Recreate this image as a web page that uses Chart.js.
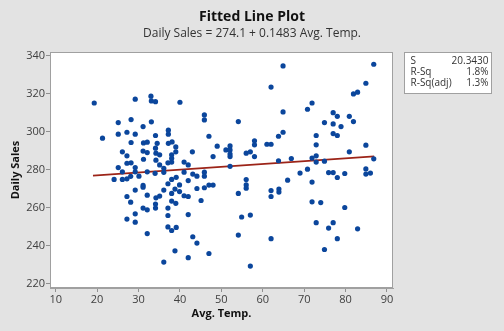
<!DOCTYPE html>
<html><head><meta charset="utf-8">
<script src="https://cdn.jsdelivr.net/npm/chart.js@4"></script>
<style>
html,body{margin:0;padding:0;background:#e3e3e3;}
#wrap{width:504px;height:331px;position:relative;}
</style>
</head><body><div id="wrap"><canvas id="c" width="504" height="331"></canvas></div>
<script>
// ---- data ----
const avgTemp = [
 19.3,29.2,33.0,33.1,34.1,28.2,25.1,33.1,31.1,21.3,25.1,27.2,29.2,34.1,37.2,37.2,28.2,31.2,32.1,34.5,
 37.2,38.1,34.1,26.1,31.1,32.1,34.2,35.1,38.0,27.2,31.2,34.2,37.1,38.0,38.0,27.2,28.2,25.1,29.2,35.1,
 36.1,39.0,39.0,26.1,29.2,36.1,34.0,32.1,39.1,24.1,26.1,27.2,28.1,30.1,38.0,40.0,
 37.1,29.2,31.1,31.1,36.1,38.8,39.9,32.1,27.2,34.2,35.1,38.0,28.1,38.0,39.0,34.1,34.1,31.1,32.1,37.1,
 29.2,37.1,27.2,29.2,37.1,38.0,39.1,32.1,38.8,36.1,39.9,
 45.9,45.9,54.1,62.0,47.0,43.0,49.0,48.0,51.1,52.1,52.1,52.1,52.1,56.0,57.0,58.0,58.0,58.0,61.0,62.0,
 63.8,63.8,41.0,42.0,52.1,
 41.0,42.0,43.1,44.1,45.9,45.9,44.1,45.9,47.0,48.0,41.0,42.0,45.1,56.0,56.0,56.0,54.1,62.0,62.0,63.9,
 63.9,42.0,54.9,57.0,43.1,44.1,54.1,62.0,42.0,47.0,57.0,
 64.9,86.8,84.9,81.9,82.9,71.9,70.8,64.9,77.0,78.0,80.9,81.9,74.9,77.0,78.9,64.9,72.9,77.0,78.0,72.9,
 84.9,80.9,72.9,71.9,72.9,74.9,66.9,86.8,70.8,84.9,69.0,75.9,77.0,78.0,79.8,84.9,86.0,66.0,71.9,71.9,
 74.0,79.8,72.9,77.0,75.9,82.9,78.0,74.9
];
const dailySales = [
 315.1,317.1,318.7,316.2,315.8,306.4,304.8,305.2,302.7,296.6,298.7,299.7,298.7,298.0,300.8,298.7,294.3,294.1,294.5,293.9,
 293.9,294.6,291.3,289.4,289.8,289.0,288.7,287.8,287.8,287.3,285.5,285.0,283.6,284.0,286.0,283.4,283.6,281.1,281.1,282.5,
 280.7,292.0,289.4,278.9,278.9,278.6,278.1,278.9,276.0,274.9,274.9,275.2,276.5,276.6,274.9,315.5,
 272.6,269.3,271.7,270.8,269.3,269.8,268.5,266.6,265.9,265.2,266.1,267.5,262.9,263.5,262.3,261.9,259.8,259.8,258.9,259.8,
 256.8,255.9,254.0,252.4,249.9,248.0,249.6,246.4,237.3,231.4,272.0,
 308.8,306.2,305.3,323.5,297.6,289.4,292.4,286.9,290.4,292.5,290.4,288.2,286.9,288.7,289.4,295.2,293.1,286.9,293.4,293.4,
 297.6,284.7,284.0,282.5,281.8,
 278.7,274.3,277.7,276.6,278.7,276.6,270.1,270.5,271.9,271.9,266.3,265.9,263.8,274.8,272.0,270.3,267.5,269.0,265.9,269.8,
 268.2,256.4,255.1,256.1,244.7,241.4,245.6,243.7,233.7,235.9,229.3,
 334.6,335.5,325.5,319.9,320.8,315.1,311.8,310.4,310.0,308.1,308.1,305.3,304.8,304.1,302.7,299.7,298.0,299.0,298.0,293.1,
 292.9,289.4,287.3,286.1,284.0,284.5,285.9,285.7,280.3,280.4,278.2,278.5,278.5,275.9,278.0,277.7,278.2,274.5,273.5,263.1,
 262.7,260.1,252.1,252.1,249.3,248.9,243.7,238.0
];
const fitLineX = [19.0, 86.9];
const fitLineY = [276.9, 287.0];
const xTicks = [10,20,30,40,50,60,70,80,90];
const yTicks = [220,240,260,280,300,320,340];
const statsLabels = ['S','R-Sq','R-Sq(adj)'];
const statsValues = ['20.3430','1.8%','1.3%'];
const chartTitle = 'Fitted Line Plot';
const chartSubtitle = 'Daily Sales = 274.1 + 0.1483 Avg. Temp.';

const FONT = '"Open Sans", "Noto Sans", sans-serif';

const scatterData = avgTemp.map((x,i)=>({x:x, y:dailySales[i]}));
const lineData = fitLineX.map((x,i)=>({x:x, y:fitLineY[i]}));

const decor = {
  id:'decor',
  beforeDraw(chart){
    const {ctx, chartArea:a} = chart;
    ctx.save();
    ctx.fillStyle = '#ffffff';
    ctx.fillRect(a.left, a.top, a.right-a.left, a.bottom-a.top);
    ctx.restore();
  },
  afterDraw(chart){
    const {ctx, chartArea:a} = chart;
    ctx.save();
    ctx.strokeStyle = '#a0a0a0';
    ctx.lineWidth = 1;
    ctx.strokeRect(a.left+0.5, a.top+0.5, a.right-a.left-1, a.bottom-a.top-1);
    // titles
    ctx.fillStyle = '#111';
    ctx.textAlign = 'center';
    ctx.textBaseline = 'alphabetic';
    ctx.font = 'bold 14px ' + FONT;
    ctx.fillText(chartTitle, 252, 21);
    ctx.fillStyle = '#333';
    ctx.font = '12px ' + FONT;
    ctx.fillText(chartSubtitle, 252, 37);
    // stats box
    const bx=404.5, by=52.5, bw=87, bh=41;
    ctx.fillStyle = '#fff';
    ctx.fillRect(bx, by, bw, bh);
    ctx.strokeStyle = '#a0a0a0';
    ctx.strokeRect(bx, by, bw, bh);
    ctx.font = '10px ' + FONT;
    ctx.fillStyle = '#333';
    ctx.textBaseline = 'middle';
    statsLabels.forEach((t,i)=>{
      ctx.textAlign='left'; ctx.fillText(t, bx+6, by+9+i*11);
      ctx.textAlign='right'; ctx.fillText(statsValues[i], bx+bw-3, by+9+i*11);
    });
    ctx.restore();
  }
};

new Chart(document.getElementById('c'), {
  type:'scatter',
  data:{datasets:[
    {type:'line', data:lineData, borderColor:'#9c2418', borderWidth:1.6, pointRadius:0, fill:false, order:2},
    {data:scatterData, backgroundColor:'#0b469c', borderWidth:0, pointRadius:2.6, pointHoverRadius:2.6, order:1}
  ]},
  options:{
    responsive:false, animation:false, devicePixelRatio:1,
    layout:{padding:{top:52, right:111, left:0, bottom:0}},
    plugins:{legend:{display:false}, tooltip:{enabled:false}},
    scales:{
      x:{type:'linear', min:8.62, max:91.45,
        afterBuildTicks(s){ s.ticks = xTicks.map(v=>({value:v})); },
        afterFit(s){ s.height = 43; },
        grid:{drawOnChartArea:false, drawTicks:true, tickLength:4, color:'#909090'},
        border:{display:true, color:'#a0a0a0'},
        ticks:{autoSkip:false, maxRotation:0, padding:1, color:'#404040', font:{family:FONT, size:11}},
        title:{display:true, text:'Avg. Temp.', color:'#111', font:{family:FONT, size:11, weight:'bold'}, padding:{top:0,bottom:11}}
      },
      y:{type:'linear', min:217.74, max:341.94,
        afterBuildTicks(s){ s.ticks = yTicks.map(v=>({value:v})); },
        afterFit(s){ s.width = 50; },
        grid:{drawOnChartArea:false, drawTicks:true, tickLength:4, color:'#909090'},
        border:{display:true, color:'#a0a0a0'},
        ticks:{autoSkip:false, padding:1, color:'#404040', font:{family:FONT, size:11}},
        title:{display:true, text:'Daily Sales', color:'#111', font:{family:FONT, size:11, weight:'bold'}, padding:{top:9,bottom:0}}
      }
    }
  },
  plugins:[decor]
});
</script></body></html>
